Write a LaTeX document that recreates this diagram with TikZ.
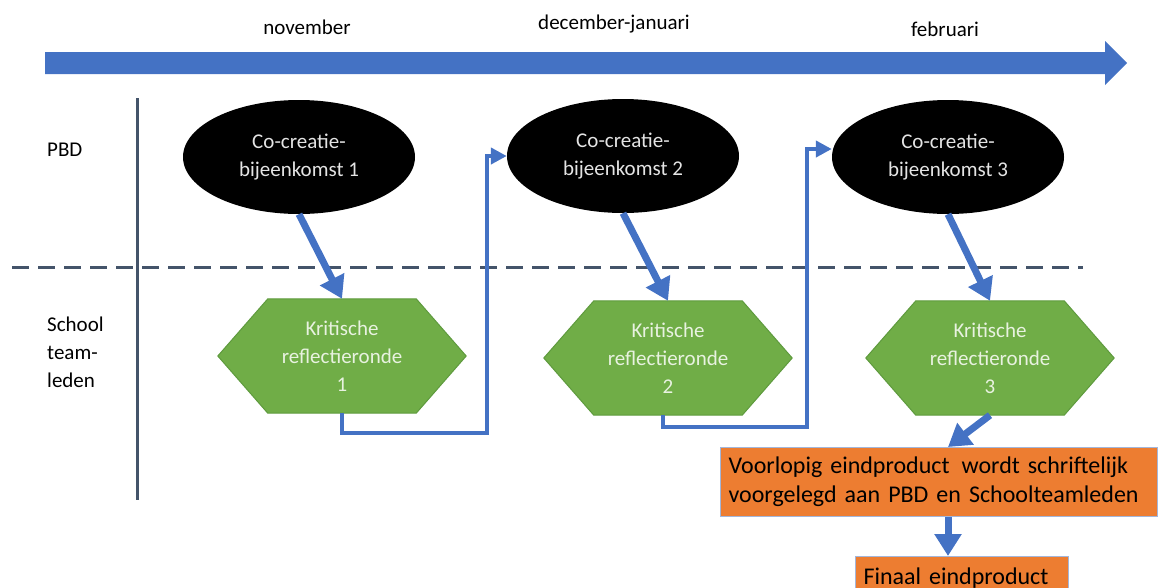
\documentclass[tikz,border=0pt]{standalone}
\usepackage{fontspec}
\setmainfont{Carlito}
\usetikzlibrary{arrows.meta,shapes.geometric,backgrounds}
\definecolor{tlblue}{HTML}{4472C4}
\definecolor{slate}{HTML}{44546A}
\definecolor{hexgreen}{HTML}{70AD47}
\definecolor{hexedge}{HTML}{5E9A3D}
\definecolor{orng}{HTML}{ED7D31}
\definecolor{boxedge}{HTML}{A3B6DA}
\definecolor{lighttext}{HTML}{E4E4E4}
\definecolor{greentext}{HTML}{E8F2E0}
\begin{document}
\begin{tikzpicture}[x=1pt,y=-1pt,
  fnt/.style={font=\fontsize{21}{28}\selectfont},
  boxfnt/.style={font=\fontsize{24}{29}\selectfont},
  txt/.style={fnt, inner sep=0pt, text=black},
  ellnode/.style={ellipse, fill=black, minimum width=232pt, minimum height=114pt, inner sep=0pt, text=lighttext, align=center, fnt},
  hexnode/.style={rectangle, minimum width=248pt, minimum height=114pt, inner sep=0pt, text=greentext, align=center, fnt},
  boxnode/.style={rectangle, fill=orng, draw=boxedge, line width=1pt, align=left, text=black, boxfnt, inner xsep=8pt, inner ysep=0pt, anchor=north west},
  bigarrow/.style={draw=tlblue, line width=7pt, -{Triangle[length=22pt,width=26pt]}},
  elbow/.style={draw=tlblue, line width=4pt, -{Triangle[length=16pt,width=16pt]}},
  lane/.style={draw=slate, line width=3pt},
]
\clip (0,0) rectangle (1159,587);
% timeline
\fill[tlblue] (45,52) -- (1105,52) -- (1105,41) -- (1127,63) -- (1105,85) -- (1105,74) -- (45,74) -- cycle;
\node[txt] (m1) at (307,27) {november};
\node[txt] (m2) at (614,24) {december-januari};
\node[txt] (m3) at (945,29) {februari};
% lanes
\draw[lane] (137,98) -- (137,500);
\draw[lane, dash pattern=on 17pt off 9pt] (12,267) -- (1083,267);
\node[txt, anchor=west] (pbd) at (47,150) {PBD};
\node[txt, anchor=west, align=left] (school) at (47,352) {School\\team-\\leden};
% ellipses
\node[ellnode] (e1) at (299,157) {Co-creatie-\\bijeenkomst 1};
\node[ellnode] (e2) at (623,156) {Co-creatie-\\bijeenkomst 2};
\node[ellnode] (e3) at (948,157) {Co-creatie-\\bijeenkomst 3};
% hexagons
\node[hexnode] (h1) at (342,356) {Kritische\\reflectieronde\\1};
\node[hexnode] (h2) at (668,358) {Kritische\\reflectieronde\\2};
\node[hexnode] (h3) at (990,358) {Kritische\\reflectieronde\\3};
\begin{scope}[on background layer]
\foreach \h in {h1,h2,h3}
  \filldraw[fill=hexgreen, draw=hexedge, line width=1pt] (\h.west) -- ([xshift=50pt]\h.north west) -- ([xshift=-50pt]\h.north east) -- (\h.east) -- ([xshift=-50pt]\h.south east) -- ([xshift=50pt]\h.south west) -- cycle;
\end{scope}
% boxes
\node[boxnode, minimum width=437pt, minimum height=69pt, text width=421pt] (b1) at (720,447) {Voorlopig eindproduct\, wordt schriftelijk\\voorgelegd aan PBD en Schoolteamleden};
\node[boxnode, minimum width=213pt, minimum height=44pt, text width=197pt] (b2) at (855,556) {Finaal eindproduct};
% connectors
\coordinate (c1) at (487,300);
\coordinate (c2) at (807,300);
\draw[bigarrow] (e1.south) -- (h1.north);
\draw[bigarrow] (e2.south) -- (h2.north);
\draw[bigarrow] (e3.south) -- (h3.north);
\draw[elbow] (h1.south) -- ++(0,20) -| (c1) |- (e2.west);
\draw[elbow] ([xshift=-5pt]h2.south) -- ++(0,12) -| (c2) |- ([yshift=8pt]e3.west);
\draw[bigarrow] (h3.south) -- ([xshift=9pt]b1.north);
\draw[bigarrow] ([xshift=9pt]b1.south) -- ([xshift=-14pt]b2.north);
\end{tikzpicture}
\end{document}
